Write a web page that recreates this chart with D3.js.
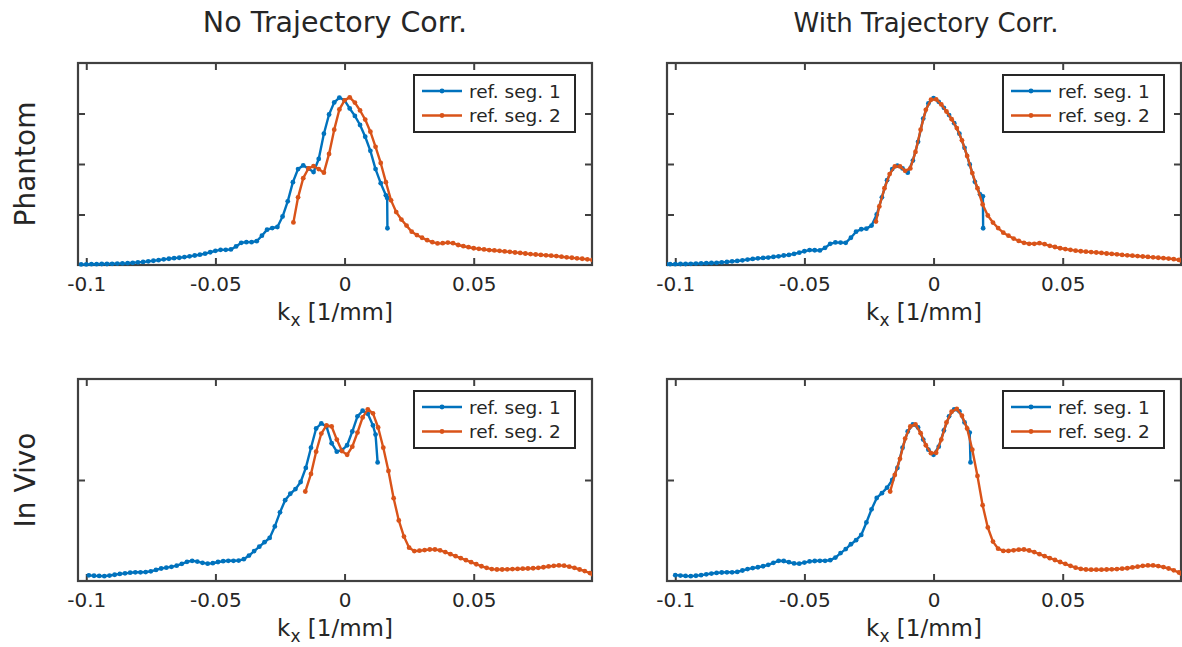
<!DOCTYPE html>
<html lang="en">
<head>
  <meta charset="UTF-8" />
  <title>Reference segment k-space profiles</title>
  <style>
    body { margin: 0; background: #fff; }
    svg { display: block; font-family: "DejaVu Sans", sans-serif; }
  </style>
</head>
<body>
  <svg id="chart"></svg>

  <script src="https://d3js.org/d3.v7.min.js"></script>
  <script>
    // --- data: [kx (1/mm), normalised magnitude] ---
    const colTitles = ["No Trajectory Corr.", "With Trajectory Corr."];
    const rowLabels = ["Phantom", "In Vivo"];
    const legendLabels = ["ref. seg. 1", "ref. seg. 2"];
    const xTicks = [-0.1, -0.05, 0, 0.05];
    const xTickLabels = ["-0.1", "-0.05", "0", "0.05"];
    const yTicksPhantom = [0.25, 0.5, 0.75];
    const yTicksVivo = [0.5];

    const phantomNoCorrSeg1 = [
      [-0.102,0.003],[-0.100,0.003],[-0.098,0.004],[-0.096,0.004],[-0.094,0.005],[-0.092,0.005],[-0.090,0.006],
      [-0.088,0.007],[-0.086,0.008],[-0.084,0.009],[-0.082,0.011],[-0.080,0.013],[-0.078,0.015],[-0.076,0.018],
      [-0.074,0.021],[-0.072,0.024],[-0.070,0.028],[-0.068,0.031],[-0.066,0.034],[-0.064,0.036],[-0.062,0.039],
      [-0.060,0.043],[-0.058,0.047],[-0.056,0.051],[-0.054,0.056],[-0.052,0.063],[-0.050,0.070],[-0.048,0.075],
      [-0.046,0.075],[-0.044,0.077],[-0.042,0.092],[-0.040,0.110],[-0.038,0.113],[-0.036,0.113],[-0.034,0.118],
      [-0.032,0.145],[-0.030,0.175],[-0.028,0.183],[-0.026,0.188],[-0.024,0.240],[-0.022,0.315],[-0.020,0.410],
      [-0.018,0.475],[-0.016,0.493],[-0.014,0.478],[-0.012,0.460],[-0.010,0.525],[-0.008,0.650],[-0.006,0.745],
      [-0.004,0.805],[-0.002,0.829],[0.000,0.815],[0.002,0.775],[0.004,0.738],[0.006,0.693],[0.008,0.635],
      [0.010,0.565],[0.012,0.475],[0.014,0.405],[0.016,0.345],[0.0165,0.332],[0.0166,0.182]
    ];
    const phantomNoCorrSeg2 = [
      [-0.0198,0.211],[-0.018,0.335],[-0.016,0.430],[-0.014,0.478],[-0.012,0.489],[-0.010,0.475],[-0.008,0.457],
      [-0.006,0.550],[-0.004,0.670],[-0.002,0.770],[0.000,0.815],[0.002,0.830],[0.004,0.804],[0.006,0.765],
      [0.008,0.720],[0.010,0.660],[0.012,0.585],[0.014,0.505],[0.016,0.410],[0.018,0.320],[0.020,0.262],
      [0.022,0.225],[0.024,0.195],[0.026,0.165],[0.028,0.148],[0.030,0.135],[0.032,0.123],[0.034,0.113],
      [0.036,0.107],[0.038,0.108],[0.040,0.111],[0.042,0.108],[0.044,0.099],[0.046,0.093],[0.048,0.088],
      [0.050,0.083],[0.052,0.080],[0.054,0.077],[0.056,0.074],[0.058,0.072],[0.060,0.070],[0.062,0.067],
      [0.064,0.065],[0.066,0.062],[0.068,0.060],[0.070,0.057],[0.072,0.054],[0.074,0.052],[0.076,0.050],
      [0.078,0.048],[0.080,0.046],[0.082,0.044],[0.084,0.041],[0.086,0.038],[0.088,0.036],[0.090,0.033],
      [0.092,0.031],[0.094,0.028],[0.096,0.025]
    ];
    const phantomCorrSeg1 = [
      [-0.1035,0.004],[-0.102,0.004],[-0.100,0.004],[-0.098,0.005],[-0.096,0.005],[-0.094,0.006],[-0.092,0.007],
      [-0.090,0.008],[-0.088,0.009],[-0.086,0.010],[-0.084,0.011],[-0.082,0.013],[-0.080,0.015],[-0.078,0.018],
      [-0.076,0.020],[-0.074,0.023],[-0.072,0.027],[-0.070,0.030],[-0.068,0.033],[-0.066,0.035],[-0.064,0.037],
      [-0.062,0.040],[-0.060,0.043],[-0.058,0.047],[-0.056,0.050],[-0.054,0.055],[-0.052,0.061],[-0.050,0.068],
      [-0.048,0.074],[-0.046,0.073],[-0.044,0.072],[-0.042,0.085],[-0.040,0.105],[-0.038,0.112],[-0.036,0.111],
      [-0.034,0.110],[-0.032,0.135],[-0.030,0.165],[-0.028,0.177],[-0.026,0.180],[-0.024,0.195],[-0.022,0.250],
      [-0.020,0.335],[-0.018,0.420],[-0.016,0.475],[-0.014,0.492],[-0.012,0.478],[-0.010,0.457],[-0.008,0.517],
      [-0.006,0.610],[-0.004,0.725],[-0.002,0.800],[0.000,0.826],[0.002,0.808],[0.004,0.778],[0.006,0.742],
      [0.008,0.702],[0.010,0.650],[0.012,0.580],[0.014,0.498],[0.016,0.412],[0.018,0.350],[0.0191,0.340],
      [0.0192,0.182]
    ];
    const phantomCorrSeg2 = [
      [-0.0223,0.215],[-0.021,0.290],[-0.019,0.380],[-0.017,0.450],[-0.015,0.488],[-0.013,0.488],[-0.011,0.466],
      [-0.009,0.478],[-0.007,0.560],[-0.005,0.670],[-0.003,0.768],[-0.001,0.818],[0.001,0.820],[0.003,0.795],
      [0.005,0.760],[0.007,0.722],[0.009,0.678],[0.011,0.617],[0.013,0.540],[0.015,0.455],[0.017,0.380],
      [0.019,0.300],[0.021,0.245],[0.023,0.210],[0.025,0.183],[0.027,0.160],[0.029,0.145],[0.031,0.131],
      [0.033,0.119],[0.035,0.110],[0.037,0.105],[0.039,0.105],[0.041,0.108],[0.043,0.103],[0.045,0.095],
      [0.047,0.089],[0.049,0.083],[0.051,0.079],[0.053,0.075],[0.055,0.071],[0.057,0.068],[0.059,0.066],
      [0.061,0.064],[0.063,0.062],[0.065,0.060],[0.067,0.057],[0.069,0.055],[0.071,0.053],[0.073,0.050],
      [0.075,0.048],[0.077,0.046],[0.079,0.044],[0.081,0.042],[0.083,0.040],[0.085,0.038],[0.087,0.036],
      [0.089,0.034],[0.091,0.032],[0.093,0.029],[0.095,0.025],[0.096,0.023]
    ];
    const vivoNoCorrSeg1 = [
      [-0.099,0.028],[-0.097,0.026],[-0.095,0.025],[-0.093,0.024],[-0.091,0.027],[-0.089,0.031],[-0.087,0.035],
      [-0.085,0.038],[-0.083,0.041],[-0.081,0.043],[-0.079,0.043],[-0.077,0.044],[-0.075,0.048],[-0.073,0.055],
      [-0.071,0.062],[-0.069,0.066],[-0.067,0.070],[-0.065,0.076],[-0.063,0.085],[-0.061,0.095],[-0.059,0.100],
      [-0.057,0.096],[-0.055,0.090],[-0.053,0.086],[-0.051,0.088],[-0.049,0.094],[-0.047,0.098],[-0.045,0.100],
      [-0.043,0.100],[-0.041,0.101],[-0.039,0.108],[-0.037,0.126],[-0.035,0.148],[-0.033,0.170],[-0.031,0.192],
      [-0.029,0.213],[-0.027,0.270],[-0.025,0.340],[-0.023,0.400],[-0.021,0.432],[-0.019,0.455],[-0.017,0.490],
      [-0.015,0.560],[-0.013,0.660],[-0.011,0.755],[-0.009,0.780],[-0.007,0.765],[-0.005,0.682],[-0.003,0.640],
      [-0.001,0.648],[0.001,0.672],[0.003,0.740],[0.005,0.815],[0.007,0.843],[0.009,0.828],[0.011,0.770],
      [0.012,0.725],[0.0128,0.587]
    ];
    const vivoNoCorrSeg2 = [
      [-0.0152,0.443],[-0.013,0.530],[-0.011,0.640],[-0.009,0.730],[-0.007,0.770],[-0.005,0.765],[-0.003,0.700],
      [-0.001,0.643],[0.001,0.625],[0.003,0.665],[0.005,0.735],[0.007,0.810],[0.009,0.850],[0.011,0.830],
      [0.013,0.760],[0.015,0.660],[0.017,0.545],[0.019,0.410],[0.021,0.300],[0.023,0.220],[0.025,0.165],
      [0.027,0.148],[0.029,0.150],[0.031,0.153],[0.033,0.156],[0.035,0.156],[0.037,0.152],[0.039,0.143],
      [0.041,0.133],[0.043,0.123],[0.045,0.113],[0.047,0.103],[0.049,0.093],[0.051,0.083],[0.053,0.073],
      [0.055,0.065],[0.057,0.059],[0.059,0.057],[0.061,0.057],[0.063,0.058],[0.065,0.059],[0.067,0.060],
      [0.069,0.061],[0.071,0.062],[0.073,0.063],[0.075,0.065],[0.077,0.068],[0.079,0.072],[0.081,0.075],
      [0.083,0.077],[0.085,0.076],[0.087,0.071],[0.089,0.065],[0.091,0.057],[0.093,0.049],[0.095,0.039],
      [0.0962,0.032]
    ];
    const vivoCorrSeg1 = [
      [-0.100,0.029],[-0.098,0.027],[-0.096,0.025],[-0.094,0.024],[-0.092,0.026],[-0.090,0.029],[-0.088,0.033],
      [-0.086,0.037],[-0.084,0.040],[-0.082,0.042],[-0.080,0.043],[-0.078,0.043],[-0.076,0.045],[-0.074,0.052],
      [-0.072,0.059],[-0.070,0.064],[-0.068,0.068],[-0.066,0.073],[-0.064,0.080],[-0.062,0.090],[-0.060,0.100],
      [-0.058,0.099],[-0.056,0.093],[-0.054,0.087],[-0.052,0.086],[-0.050,0.091],[-0.048,0.097],[-0.046,0.099],
      [-0.044,0.100],[-0.042,0.100],[-0.040,0.103],[-0.038,0.116],[-0.036,0.138],[-0.034,0.158],[-0.032,0.182],
      [-0.030,0.202],[-0.028,0.228],[-0.026,0.290],[-0.024,0.355],[-0.022,0.411],[-0.020,0.435],[-0.018,0.462],
      [-0.016,0.500],[-0.014,0.560],[-0.012,0.660],[-0.010,0.740],[-0.008,0.775],[-0.006,0.760],[-0.004,0.700],
      [-0.002,0.650],[0.000,0.625],[0.002,0.665],[0.004,0.745],[0.006,0.815],[0.008,0.850],[0.010,0.840],
      [0.012,0.785],[0.014,0.735],[0.0143,0.587]
    ];
    const vivoCorrSeg2 = [
      [-0.0168,0.443],[-0.015,0.525],[-0.013,0.605],[-0.011,0.705],[-0.009,0.765],[-0.007,0.775],[-0.005,0.732],
      [-0.003,0.672],[-0.001,0.633],[0.001,0.635],[0.003,0.700],[0.005,0.785],[0.007,0.838],[0.009,0.852],
      [0.011,0.818],[0.013,0.755],[0.015,0.650],[0.017,0.520],[0.019,0.375],[0.021,0.265],[0.023,0.195],
      [0.025,0.160],[0.027,0.149],[0.029,0.149],[0.031,0.152],[0.033,0.155],[0.035,0.156],[0.037,0.151],
      [0.039,0.143],[0.041,0.133],[0.043,0.123],[0.045,0.113],[0.047,0.104],[0.049,0.094],[0.051,0.085],
      [0.053,0.075],[0.055,0.066],[0.057,0.060],[0.059,0.057],[0.061,0.056],[0.063,0.056],[0.065,0.056],
      [0.067,0.057],[0.069,0.058],[0.071,0.059],[0.073,0.061],[0.075,0.063],[0.077,0.067],[0.079,0.071],
      [0.081,0.075],[0.083,0.077],[0.085,0.077],[0.087,0.074],[0.089,0.069],[0.091,0.062],[0.093,0.053],
      [0.095,0.042],[0.096,0.037]
    ];

    // --- layout ---
    const width = 1182, height = 647;
    const colLeft = [78, 667];
    const rowTop = [63, 379];
    const pw = 514, ph = 202;
    const titleSize = [28.5, 26];
    const blue = "#0072BD", orange = "#D95319";
    const axisColor = "#404040", textColor = "#262626";

    const svg = d3.select("#chart")
      .attr("width", width)
      .attr("height", height);

    const x = d3.scaleLinear().domain([-0.1032, 0.0958]).range([0, pw]);
    const y = d3.scaleLinear().domain([0, 1]).range([ph, 0]);

    const line = d3.line()
      .x(d => x(d[0]))
      .y(d => y(d[1]));

    const panels = [
      { row: 0, col: 0, seg1: phantomNoCorrSeg1, seg2: phantomNoCorrSeg2, yTicks: yTicksPhantom },
      { row: 0, col: 1, seg1: phantomCorrSeg1, seg2: phantomCorrSeg2, yTicks: yTicksPhantom },
      { row: 1, col: 0, seg1: vivoNoCorrSeg1, seg2: vivoNoCorrSeg2, yTicks: yTicksVivo },
      { row: 1, col: 1, seg1: vivoCorrSeg1, seg2: vivoCorrSeg2, yTicks: yTicksVivo }
    ];

    svg.append("defs").append("clipPath")
      .attr("id", "plot-clip")
      .append("rect")
      .attr("x", 0).attr("y", -4)
      .attr("width", pw).attr("height", ph + 8);

    function styleAxis(g) {
      g.select(".domain").remove();
      g.selectAll(".tick line").attr("stroke", axisColor).attr("stroke-width", 2);
      g.selectAll(".tick text")
        .attr("fill", textColor)
        .attr("font-size", 20)
        .attr("font-family", "DejaVu Sans, sans-serif");
    }

    panels.forEach(p => {
      const g = svg.append("g")
        .attr("transform", `translate(${colLeft[p.col]},${rowTop[p.row]})`);

      g.append("g")
        .attr("transform", `translate(0,${ph})`)
        .call(d3.axisBottom(x).tickValues(xTicks)
          .tickFormat((d, i) => xTickLabels[i]).tickSize(-7).tickPadding(12))
        .call(styleAxis);
      g.append("g")
        .call(d3.axisTop(x).tickValues(xTicks).tickFormat("").tickSize(-7))
        .call(styleAxis);
      g.append("g")
        .call(d3.axisLeft(y).tickValues(p.yTicks).tickFormat("").tickSize(-7))
        .call(styleAxis);
      g.append("g")
        .attr("transform", `translate(${pw},0)`)
        .call(d3.axisRight(y).tickValues(p.yTicks).tickFormat("").tickSize(-7))
        .call(styleAxis);

      g.append("rect")
        .attr("width", pw).attr("height", ph)
        .attr("fill", "none")
        .attr("stroke", axisColor)
        .attr("stroke-width", 2.2);

      const plot = g.append("g").attr("clip-path", "url(#plot-clip)");
      [[p.seg1, blue], [p.seg2, orange]].forEach(([data, color]) => {
        plot.append("path")
          .datum(data)
          .attr("d", line)
          .attr("fill", "none")
          .attr("stroke", color)
          .attr("stroke-width", 2.4)
          .attr("stroke-linejoin", "round");
        plot.selectAll(null)
          .data(data)
          .join("circle")
          .attr("cx", d => x(d[0]))
          .attr("cy", d => y(d[1]))
          .attr("r", 2.4)
          .attr("fill", color);
      });

      // legend
      const lg = g.append("g").attr("transform", `translate(${pw - 17 - 161},12)`);
      lg.append("rect")
        .attr("width", 161).attr("height", 57)
        .attr("fill", "#fff")
        .attr("stroke", textColor)
        .attr("stroke-width", 2);
      [blue, orange].forEach((color, i) => {
        const yy = 16 + i * 24.5;
        lg.append("line")
          .attr("x1", 8).attr("x2", 48)
          .attr("y1", yy).attr("y2", yy)
          .attr("stroke", color).attr("stroke-width", 2.4);
        lg.append("circle")
          .attr("cx", 28).attr("cy", yy).attr("r", 2.4)
          .attr("fill", color);
        lg.append("text")
          .attr("x", 55).attr("y", yy)
          .attr("dy", "0.36em")
          .attr("font-size", 18.5)
          .attr("fill", textColor)
          .text(legendLabels[i]);
      });

      // x label
      const xl = g.append("text")
        .attr("x", pw / 2)
        .attr("y", ph + 55)
        .attr("text-anchor", "middle")
        .attr("font-size", 23)
        .attr("fill", textColor);
      xl.append("tspan").text("k");
      xl.append("tspan").attr("font-size", 17).attr("dy", 6).text("x");
      xl.append("tspan").attr("dy", -6).text(" [1/mm]");
    });

    colTitles.forEach((t, i) => {
      svg.append("text")
        .attr("x", colLeft[i] + pw / 2 + (i === 1 ? 2 : 0))
        .attr("y", 32)
        .attr("text-anchor", "middle")
        .attr("font-size", titleSize[i])
        .attr("fill", textColor)
        .text(t);
    });

    rowLabels.forEach((t, i) => {
      svg.append("text")
        .attr("transform", `translate(35,${rowTop[i] + ph / 2}) rotate(-90)`)
        .attr("text-anchor", "middle")
        .attr("font-size", 28)
        .attr("fill", textColor)
        .text(t);
    });
  </script>
</body>
</html>
